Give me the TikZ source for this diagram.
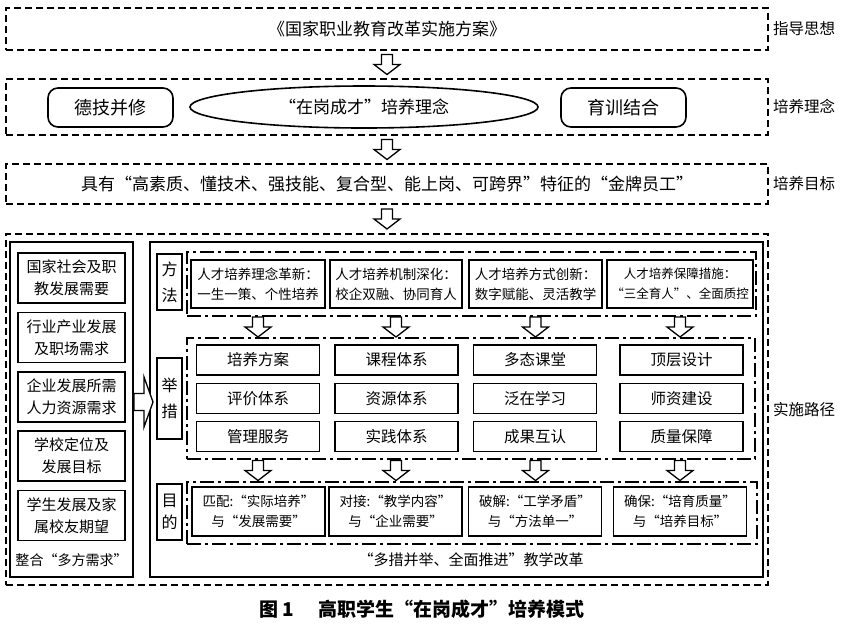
\documentclass[tikz,border=0pt]{standalone}
\usepackage{fontspec}
\setmainfont{Noto Sans CJK SC}
\usetikzlibrary{positioning,calc,shapes.geometric}

\newcommand\fmain{\fontsize{17}{20}\selectfont}
\newcommand\fside{\fontsize{15.5}{18}\selectfont}
\newcommand\fleft{\fontsize{15}{22}\selectfont}
\newcommand\fmeth{\fontsize{13.5}{20}\selectfont}
\newcommand\fmeas{\fontsize{15.5}{18}\selectfont}

\tikzset{
  dashbox/.style={draw, line width=1.8pt, dash pattern=on 7pt off 4pt,
    minimum width=762pt, inner sep=0pt, font=\fmain},
  grpbox/.style={draw, line width=1.7pt, dash pattern=on 14pt off 4pt on 3pt off 4pt},
  solidbox/.style={draw, line width=1.6pt, align=center, inner sep=0pt},
  bigbox/.style={draw, line width=2pt},
  tagbox/.style={draw, line width=1.6pt, align=center, minimum width=25pt,
    inner sep=0pt, font=\fontsize{16}{26}\selectfont},
  sidelabel/.style={font=\fside, inner sep=1pt},
  hdown/.pic={\draw[line width=1.3pt, fill=white] (-5.5,-10) -- (5.5,-10) -- (5.5,0)
    -- (13,0) -- (0,10) -- (-13,0) -- (-5.5,0) -- cycle;},
  hright/.pic={\draw[line width=1.3pt, fill=white] (0,-8.5) -- (10,-8.5) -- (10,-25)
    -- (19,0) -- (10,25) -- (10,8.5) -- (0,8.5) -- cycle;}
}

\begin{document}
\begin{tikzpicture}[x=1pt,y=-1pt]
\useasboundingbox (0,0) rectangle (845,625);

% guiding idea
\node[dashbox, minimum height=42pt] (g1) at (387,29) {《国家职业教育改革实施方案》};
\node[sidelabel, right=3pt of g1] (s1) {指导思想};

% training idea
\node[dashbox, minimum height=56pt] (g2) at (387,107) {};
\node[draw, rounded corners=10pt, line width=1.6pt, minimum width=125pt,
  minimum height=39pt, font=\fontsize{18}{20}\selectfont] (d1) at (110.5,107.5) {德技并修};
\node[draw, ellipse, line width=1.6pt, minimum width=348pt, minimum height=42pt,
  inner sep=0pt, font=\fmain] (e1) at (364,107) {“在岗成才”培养理念};
\node[draw, rounded corners=10pt, line width=1.6pt, minimum width=125pt,
  minimum height=39pt, font=\fontsize{18}{20}\selectfont] (d2) at (623.5,107.5) {育训结合};
\node[sidelabel, right=3pt of g2] (s2) {培养理念};

% training goal
\node[dashbox, minimum height=40pt] (g3) at (387,184)
  {具有“高素质、懂技术、强技能、复合型、能上岗、可跨界”特征的“金牌员工”};
\node[sidelabel, right=3pt of g3] (s3) {培养目标};

% path
\node[dashbox, minimum height=351pt] (g4) at (387,409.5) {};
\node[sidelabel, right=3pt of g4] (s4) {实施路径};

\foreach \a/\b in {g1/g2,g2/g3,g3/g4}
  \pic at ($(\a.south)!0.5!(\b.north)$) {hdown};

% left column: demands
\node[bigbox, minimum width=123pt, minimum height=335pt] (ls) at (71.5,409.5) {};
\foreach \t [count=\i] in {{国家社会及职\\教发展需要},{行业产业发展\\及职场需求},
    {企业发展所需\\人力资源需求},{学校定位及\\发展目标},{学生发展及家\\属校友期望}}
  \node[solidbox, minimum width=107pt, minimum height=50pt, font=\fleft]
    (n\i) at (71.5,218.6+59.4*\i) {\t};
\node[font=\fontsize{14}{17}\selectfont] (ln) at (71.5,560) {整合“多方需求”};

% right column: reform
\node[bigbox, minimum width=613pt, minimum height=335pt] (rs) at (456.5,409.5) {};
\pic at ($(ls.east)+(0,-7.5)$) {hright};

% methods
\node[tagbox, minimum height=56pt] (t1) at (169.5,282) {方\\法};
\node[grpbox, minimum width=569pt, minimum height=64pt] (fa) at (471.5,284) {};
\foreach \x/\w/\s/\t [count=\i] in {258/134/13.5/{人才培养理念革新：\\一生一策、个性培养},
    396/132/13.5/{人才培养机制深化：\\校企双融、协同育人},
    535.5/133/13.5/{人才培养方式创新：\\数字赋能、灵活教学},
    680/146/12.5/{人才培养保障措施：\\“三全育人”、全面质控}}
  \node[solidbox, minimum width=\w pt, minimum height=48pt, font=\fontsize{\s}{20}\selectfont]
    (m\i) at (\x,284) {\t};

% measures
\node[tagbox, minimum height=81pt] (t2) at (169.5,398.5) {举\\措};
\node[grpbox, minimum width=568pt, minimum height=121pt] (jc) at (471,398.5) {};
\foreach \x/\y/\t/\n in {258/360/培养方案/c1, 396.5/360/课程体系/c2,
    535/360/多态课堂/c3, 681.5/360/顶层设计/c4,
    258/398.5/评价体系/c5, 396.5/398.5/资源体系/c6,
    535/398.5/泛在学习/c7, 681.5/398.5/师资建设/c8,
    258/436.5/管理服务/c9, 396.5/436.5/实践体系/c10,
    535/436.5/成果互认/c11, 681.5/436.5/质量保障/c12}
  \node[solidbox, minimum width=123pt, minimum height=30pt, font=\fmeas]
    (\n) at (\x,\y) {\t};

% purposes
\node[tagbox, minimum height=56pt, font=\fontsize{16}{22}\selectfont] (t3) at (169.5,512) {目\\的};
\node[grpbox, minimum width=570pt, minimum height=62pt] (md) at (472,513) {};
\foreach \x/\t [count=\i] in {258.5/{匹配:“实际培养”\\与“发展需要”},
    395.5/{对接:“教学内容”\\与“企业需要”},
    535/{破解:“工学矛盾”\\与“方法单一”},
    680/{确保:“培育质量”\\与“培养目标”}}
  \node[solidbox, minimum width=133pt, minimum height=49pt, font=\fontsize{13.5}{20}\selectfont]
    (p\i) at (\x,511.5) {\t};

% arrows between groups
\foreach \i in {1,...,4}
  \pic at ($(m\i |- fa.south)!0.5!(m\i |- jc.north)$) {hdown};
\foreach \i in {1,...,4}
  \pic at ($(m\i |- jc.south)!0.5!(m\i |- md.north)$) {hdown};

\node[font=\fontsize{15}{18}\selectfont] (rt) at (471,560) {“多措并举、全面推进”教学改革};

% caption
\node[font=\bfseries\fontsize{19}{22}\selectfont] (cap) at (422,609)
  {图 1\hspace{1.3em}高职学生“在岗成才”培养模式};
\end{tikzpicture}
\end{document}
